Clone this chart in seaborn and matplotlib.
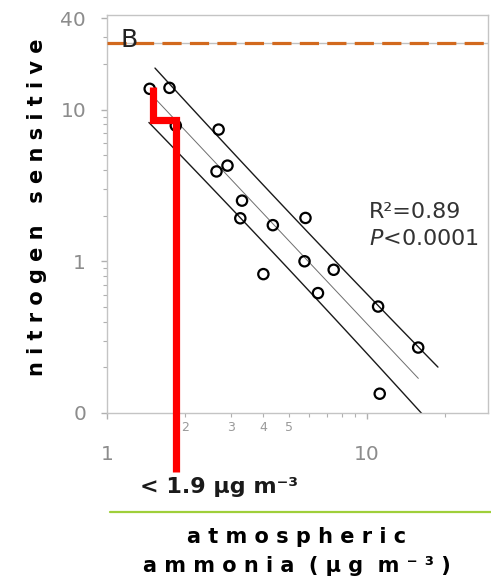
import numpy as np
import pandas as pd
import seaborn as sns
import matplotlib.pyplot as plt
import matplotlib.ticker as ticker
from matplotlib.lines import Line2D

# values: ammonia (ug m-3) vs nitrogen sensitive
ammonia = [1.46, 1.74, 1.84, 2.69, 2.91, 2.64, 3.31, 3.26, 4.35, 5.81,
           5.76, 4.00, 7.46, 6.49, 11.06, 15.78, 11.22]
n_sensitive = [13.7, 13.9, 7.84, 7.38, 4.27, 3.91, 2.51, 1.92, 1.73, 1.93,
               1.00, 0.823, 0.879, 0.617, 0.503, 0.270, 0.134]

critical_level = 27.5          # orange dashed line "B"
threshold_x = [1.51, 1.51, 1.85, 1.85]
threshold_y = [14.0, 8.5, 8.5, 0.041]

ytick_vals = [0.1, 1, 10, 40]
ytick_labels = ["0", "1", "10", "40"]
xtick_major = [1, 10]
xtick_major_labels = ["1", "10"]
xtick_small_labels = [2, 3, 4, 5]

# extent of fitted line and its band lines
fit_range = (1.52, 15.8)
upper_range = (1.53, 18.8)
lower_range = (1.45, 16.3)
band_t = 0.9

W, H = 491, 579


def fx(px):
    return px / W


def fy(py):
    return 1 - py / H


def main():
    sns.set_style("white")
    plt.rcParams['font.family'] = ['DejaVu Sans']

    fig = plt.figure(figsize=(W / 100, H / 100), dpi=100)
    ax = fig.add_axes([fx(107), fy(413), fx(488) - fx(107), fy(15) - fy(413)])
    ax.set_xscale('log')
    ax.set_yscale('log')

    df = pd.DataFrame({"ammonia": ammonia, "nsens": n_sensitive})

    # regression in log-log space with band lines
    lx = np.log10(df["ammonia"].values)
    ly = np.log10(df["nsens"].values)
    n = len(lx)
    slope, intercept = np.polyfit(lx, ly, 1)
    resid = ly - (intercept + slope * lx)
    s = np.sqrt(np.sum(resid ** 2) / (n - 2))
    sxx = np.sum((lx - lx.mean()) ** 2)

    def curve(xr, sign):
        lxs = np.linspace(np.log10(xr[0]), np.log10(xr[1]), 100)
        half = band_t * s * np.sqrt(1 + 1 / n + (lxs - lx.mean()) ** 2 / sxx)
        return 10 ** lxs, 10 ** (intercept + slope * lxs + sign * half)

    for xr, sign, col, lw in [(fit_range, 0, '#6e6e6e', 0.7),
                              (upper_range, 1, '#1a1a1a', 1.0),
                              (lower_range, -1, '#1a1a1a', 1.0)]:
        xs, ys = curve(xr, sign)
        sns.lineplot(x=xs, y=ys, ax=ax, color=col, lw=lw, sort=False,
                     estimator=None)

    sns.scatterplot(data=df, x="ammonia", y="nsens", ax=ax, s=55,
                    facecolor='none', edgecolor='black', linewidth=1.6,
                    zorder=5)

    ax.axhline(critical_level, color='#c0c0c0', lw=1.0, zorder=2)
    ax.axhline(critical_level, color='#d2691e', lw=2.3, dashes=(6, 2.6),
               zorder=3, clip_on=False)

    ax.plot(threshold_x, threshold_y, color='red', lw=5.2, clip_on=False,
            solid_joinstyle='miter', solid_capstyle='butt', zorder=6)

    ax.set_xlim(1, 29.3)
    ax.set_ylim(0.1, 42)
    ax.set_xlabel("")
    ax.set_ylabel("")

    ax.yaxis.set_major_locator(ticker.FixedLocator(ytick_vals))
    ax.yaxis.set_major_formatter(ticker.FixedFormatter(ytick_labels))
    ax.yaxis.set_minor_locator(ticker.LogLocator(base=10, subs=np.arange(2, 10), numticks=20))
    ax.yaxis.set_minor_formatter(ticker.NullFormatter())

    ax.xaxis.set_major_locator(ticker.FixedLocator(xtick_major))
    ax.xaxis.set_major_formatter(ticker.FixedFormatter(xtick_major_labels))
    ax.xaxis.set_minor_locator(ticker.LogLocator(base=10, subs=np.arange(2, 10), numticks=20))

    def small_fmt(v, pos):
        r = int(round(v))
        return str(r) if abs(v - r) < 1e-6 and r in xtick_small_labels else ""
    ax.xaxis.set_minor_formatter(ticker.FuncFormatter(small_fmt))

    ax.tick_params(axis='y', which='major', length=4, width=1, color='#b0b0b0',
                   labelsize=14.5, labelcolor='#8c8c8c', pad=11, left=True)
    ax.tick_params(axis='y', which='minor', length=3, width=0.8, color='#b0b0b0', left=True)
    ax.tick_params(axis='x', which='major', length=4, width=1, color='#b0b0b0',
                   labelsize=14.5, labelcolor='#8c8c8c', pad=19, bottom=True)
    ax.tick_params(axis='x', which='minor', length=3, width=0.8, color='#b0b0b0',
                   labelsize=9, labelcolor='#9a9a9a', pad=3, bottom=True)
    for sp in ax.spines.values():
        sp.set_color('#c4c4c4')
        sp.set_linewidth(1.0)

    # annotations
    fig.text(fx(129), fy(40), "B", fontsize=18, color='#222222',
             ha='center', va='center')
    fig.text(fx(369), fy(212), "R\u00b2=0.89", fontsize=16, color='#333333',
             ha='left', va='center')
    fig.text(fx(369), fy(239), r"$P$<0.0001", fontsize=16, color='#333333',
             ha='left', va='center')
    fig.text(fx(140), fy(487), "< 1.9 \u03bcg m\u207b\u00b3",
             fontsize=16, fontweight='bold', color='#1a1a1a', ha='left', va='center')

    fig.add_artist(Line2D([fx(110), 1.0], [fy(512), fy(512)], color='#9fcf3a',
                          lw=1.6, transform=fig.transFigure))

    fig.text(fx(37), fy(207), "n i t r o g e n   s e n s i t i v e",
             rotation=90, fontsize=15, fontweight='bold', ha='center',
             va='center', color='black')
    fig.text(fx(297), fy(537), "a t m o s p h e r i c", fontsize=15,
             fontweight='bold', ha='center', va='center', color='black')
    fig.text(fx(297), fy(566), "a m m o n i a  ( \u03bc g  m \u207b \u00b3 )",
             fontsize=15, fontweight='bold', ha='center', va='center',
             color='black')

    fig.savefig("out.png", dpi=100)


if __name__ == "__main__":
    main()
